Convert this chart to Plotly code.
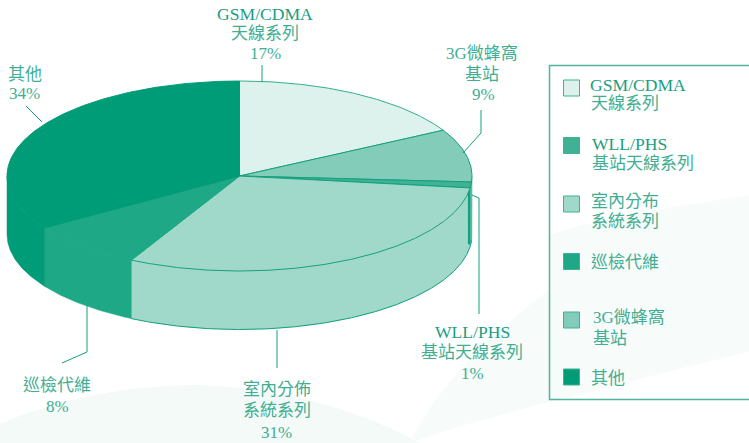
import math
import plotly.graph_objects as go

# ---- data ----
categories = ["GSM/CDMA 天線系列", "3G微蜂窩基站", "WLL/PHS 基站天線系列", "室內分佈系統系列", "巡檢代維", "其他"]
values = [17, 9, 1, 30.7, 8.1, 34.2]
colors = ["#ddf2ec", "#83ccb9", "#3fb194", "#a0d9c9", "#1fa886", "#009b77"]
edge_colors = ["#35ad8f", "#14a07f", "#14a07f", "#14a07f", "#1fa886", "#009b77"]

# callout text: (text, x, y, colour kind)
LATIN = "#1b9e7f"
CJK = "#3fae93"
slice_labels = [
    ("GSM/CDMA", 265, 14, LATIN), ("天線系列", 265, 33, CJK), ("17%", 265, 53, CJK),
    ("3G微蜂窩", 482, 53, CJK), ("基站", 482, 74, CJK), ("9%", 483, 94, CJK),
    ("WLL/PHS", 472, 332, LATIN), ("基站天線系列", 472, 352, CJK), ("1%", 472, 373, CJK),
    ("室內分佈", 277, 389, CJK), ("系統系列", 277, 410, CJK), ("31%", 276, 432.5, CJK),
    ("巡檢代維", 57, 385, CJK), ("8%", 57, 406, CJK),
    ("其他", 25, 74, CJK), ("34%", 24, 93, CJK),
]
legend_labels = [
    ("GSM/CDMA", 588, 85, LATIN), ("天線系列", 589, 103, CJK),
    ("WLL/PHS", 590, 144, LATIN), ("基站天線系列", 590, 163, CJK),
    ("室內分布", 589, 201, CJK), ("系統系列", 589, 221, CJK),
    ("巡檢代維", 589, 262, CJK),
    ("3G微蜂窩", 591, 317, CJK), ("基站", 591, 338, CJK),
    ("其他", 589, 378, CJK),
]
legend_order = [0, 2, 3, 4, 1, 5]
legend_swatch_y = [88, 145.5, 204, 261.5, 320, 377]
leaders = [
    [(262, 65), (262, 82)],
    [(481, 110), (481, 133), (463, 153)],
    [(472, 195), (479, 198), (479, 314)],
    [(26, 106), (42, 122)],
    [(87, 305), (87, 352), (62, 363)],
    [(277, 330), (277, 368)],
]

# ---- pie geometry ----
CX, CY, RX, RY, DEPTH = 239.5, 176, 232.5, 95, 58.5


def pt(deg, drop=0):
    a = math.radians(deg)
    return CX + RX * math.sin(a), CY - RY * math.cos(a) + drop


def arc(a0, a1, drop=0):
    n = max(2, int(abs(a1 - a0) * 2) + 1)
    return [pt(a0 + (a1 - a0) * i / (n - 1), drop) for i in range(n)]


fig = go.Figure()
total = sum(values)
spans = []
acc = 0
for v in values:
    spans.append((acc / total * 360, (acc + v) / total * 360))
    acc += v

# side walls (only the front half, 90 to 270 degrees, can be seen)
for (a0, a1), col in zip(spans, colors):
    lo, hi = max(a0, 90), min(a1, 270)
    if lo >= hi:
        continue
    top = arc(lo, hi)
    bot = arc(hi, lo, DEPTH)
    pts = top + bot + [top[0]]
    fig.add_trace(go.Scatter(x=[p[0] for p in pts], y=[p[1] for p in pts], mode="lines",
                             fill="toself", fillcolor=col, line=dict(color=col, width=0.5),
                             hoverinfo="skip", showlegend=False))
# bottom rim of the light slice and of the 1% slice
for i in (2, 3):
    a0, a1 = spans[i]
    rim = arc(max(a0, 90), a1, DEPTH)
    fig.add_trace(go.Scatter(x=[p[0] for p in rim], y=[p[1] for p in rim], mode="lines",
                             line=dict(color="#14a07f", width=1), hoverinfo="skip", showlegend=False))
# dark right-hand wall of the 1% slice
a0, a1 = spans[2]
fig.add_trace(go.Scatter(x=[pt(a1)[0] - 1] * 2, y=[pt(a1)[1], pt(a1, DEPTH)[1] - 2], mode="lines",
                         line=dict(color="#14a07f", width=2.5), hoverinfo="skip", showlegend=False))

# top face
for (a0, a1), col, ecol in zip(spans, colors, edge_colors):
    pts = [(CX, CY)] + arc(a0, a1) + [(CX, CY)]
    fig.add_trace(go.Scatter(x=[p[0] for p in pts], y=[p[1] for p in pts], mode="lines",
                             fill="toself", fillcolor=col, line=dict(color=ecol, width=1),
                             hoverinfo="skip", showlegend=False))

# leader lines
for seg in leaders:
    fig.add_trace(go.Scatter(x=[p[0] for p in seg], y=[p[1] for p in seg], mode="lines",
                             line=dict(color="#14a07f", width=1), hoverinfo="skip", showlegend=False))

# legend swatches
for idx, yy in zip(legend_order, legend_swatch_y):
    fig.add_trace(go.Scatter(x=[571.5], y=[yy], mode="markers", hoverinfo="skip", showlegend=False,
                             marker=dict(symbol="square", size=16, color=colors[idx],
                                         line=dict(color="#3fb194", width=1))))

FONT = "Liberation Serif, Noto Sans CJK TC"
annotations = []
for t, x, y, c in slice_labels:
    annotations.append(dict(text=t, x=x, y=y, xanchor="center", yanchor="middle", showarrow=False,
                            font=dict(family="Liberation Serif" if t == "31%" else FONT,
                                      size=17 if c == CJK else 17.6, color=c)))
for t, x, y, c in legend_labels:
    annotations.append(dict(text=t, x=x, y=y, xanchor="left", yanchor="middle", showarrow=False,
                            font=dict(family=FONT, size=17 if c == CJK else 17.6, color=c)))

shapes = [
    dict(type="path", layer="below", line=dict(width=0), fillcolor="#f4faf8",
         path="M 0,424 C 60,398 130,385 200,385 C 280,388 360,410 420,443 L 0,443 Z"),
    dict(type="path", layer="below", line=dict(width=0), fillcolor="#f7fbfa",
         path="M 410,443 C 430,400 470,350 549,290 L 549,235 C 610,215 690,205 749,195 L 749,352 C 690,365 620,385 549,402 C 500,415 450,428 410,443 Z"),
    dict(type="rect", x0=549.5, y0=65.5, x1=752, y1=399.5, line=dict(color="#4fb59c", width=1.5), layer="above"),
]

fig.update_layout(
    width=749, height=443, margin=dict(l=0, r=0, t=0, b=0),
    paper_bgcolor="white", plot_bgcolor="white",
    xaxis=dict(range=[0, 749], visible=False, fixedrange=True),
    yaxis=dict(range=[443, 0], visible=False, fixedrange=True),
    annotations=annotations, shapes=shapes,
)
fig.write_html("out.html", config={"displayModeBar": False},
               post_script="document.body.style.margin='0';document.body.style.overflow='hidden';")
